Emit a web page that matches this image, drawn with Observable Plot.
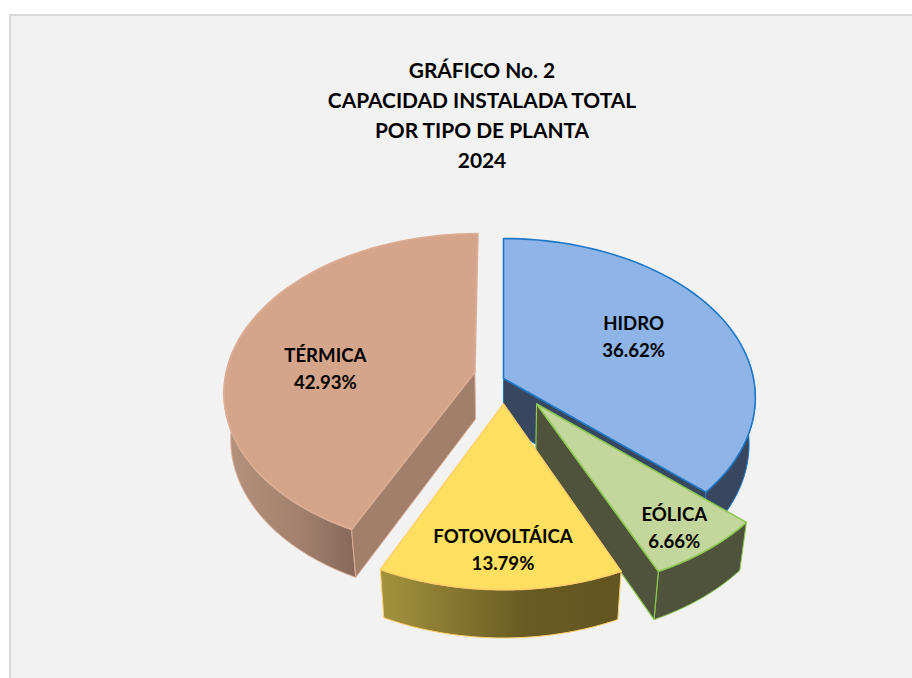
<!DOCTYPE html>
<html lang="es">
<head>
<meta charset="utf-8">
<script src="https://cdn.jsdelivr.net/npm/d3@7"></script>
<script src="https://cdn.jsdelivr.net/npm/@observablehq/plot@0.6"></script>
<style>
html,body{margin:0;padding:0;background:#fff;overflow:hidden;width:912px;height:678px}
#frame{position:absolute;left:9px;top:14px;width:903px;height:664px;box-sizing:border-box;background:#f2f2f2;border-left:2px solid #d9d9d9;border-top:2px solid #d9d9d9}
#title{position:absolute;left:0;top:55px;width:964px;text-align:center;font:700 20.9px/30px Lato,sans-serif;color:#000}
#chart{position:absolute;left:0;top:0}
svg{background:transparent!important}
</style>
</head>
<body>
<div id="frame"></div>
<div id="title">GRÁFICO No. 2<br>CAPACIDAD INSTALADA TOTAL<br>POR TIPO DE PLANTA<br>2024</div>
<div id="chart"></div>
<script>
// Data
const categories = ["HIDRO", "EÓLICA", "FOTOVOLTÁICA", "TÉRMICA"];
const shares = [36.62, 6.66, 13.79, 42.93];

// Styles
const topColors = ["#8eb4e8", "#c3d69b", "#ffdf5f", "#d4a58a"];
const edgeColors = ["#1f78c4", "#8cc850", "#ffd06a", "#dcae96"];
const wallColors = ["#36475f", "#50533b", "#6b5c22", "#a27f6b"];
const outerWallFill = ["#36475f", "#50533b", "url(#gFoto)", "url(#gTerm)"];

// Pie model: slice offsets from the centre, in radius units (sideways, toward viewer)
const explodeX = [0, 0.13, 0, -0.115];
const explodeZ = [0, 0.16, 0.16, -0.04];
const labelRadius = [0.61, 0.84, 0.795, 0.605];
const labelTurn = [-4, 1, -0.5, -9.5];
const flatten = 0.627, thickness = 0.192, perspective = 0.12, taper = 0.025;

function project(X, Z, h) {
  const s = 1 / (1 - perspective * Z + taper * h);
  return {u: X * s, v: (flatten * Z + thickness * h) * s};
}
const rad = d => d * Math.PI / 180;
const slices = [], labels = [];
let start = 0;
shares.forEach((share, i) => {
  const a0 = start * 3.6, a1 = (start + share) * 3.6, dx = explodeX[i], dz = explodeZ[i];
  start += share;
  const at = (a, r, h) => project(dx + r * Math.sin(rad(a)), dz - r * Math.cos(rad(a)), h);
  const angles = d3.range(0, 61).map(k => a0 + (a1 - a0) * k / 60);
  const arc = h => angles.map(a => at(a, 1, h));
  // only the part of the rim that faces the viewer gets a wall
  const frontArc = h => angles.filter(a => -Math.cos(rad(a)) >= -0.2).map(a => at(a, 1, h));
  const apexT = at(0, 0, 0), apexB = at(0, 0, 1);
  const topArc = arc(0), botArc = arc(1);
  const close = p => [...p, p[0]];
  const startWall = close([apexT, topArc[0], botArc[0], apexB]);
  const endWall = close([apexT, topArc[60], botArc[60], apexB]);
  const outerWall = close([...frontArc(0), ...frontArc(1).reverse()]);
  const topFace = close([apexT, ...topArc]);
  const faces = [{pts: outerWall, fill: outerWallFill[i], stroke: edgeColors[i], w: 1}];
  if (i === 0) faces.push({pts: startWall, fill: wallColors[i], stroke: edgeColors[i], w: 1}, {pts: endWall, fill: wallColors[i], stroke: edgeColors[i], w: 1});
  if (i === 1) faces.push({pts: endWall, fill: wallColors[i], stroke: edgeColors[i], w: 1.2});
  if (i === 3) faces.push({pts: startWall, fill: wallColors[i], stroke: edgeColors[i], w: 1});
  faces.push({pts: topFace, fill: topColors[i], stroke: edgeColors[i], w: 1.6});
  slices.push(faces);
  const p = at((a0 + a1) / 2 + labelTurn[i], labelRadius[i], 0);
  labels.push({u: p.u, v: p.v, text: categories[i] + "\n" + share.toFixed(2) + "%"});
});
// paint back to front: Térmica, Hidro, Eólica, Fotovoltáica
const painted = [3, 0, 1, 2].flatMap(i => slices[i]);

const gradients = () => {
  const defs = d3.create("svg:defs");
  [["gFoto", "#a4933c", "#6a5b24", "#62551f"], ["gTerm", "#b5937f", "#a0806c", "#86685a"]].forEach(([id, a, m, b]) => {
    const g = defs.append("linearGradient").attr("id", id);
    g.append("stop").attr("offset", "0%").attr("stop-color", a);
    g.append("stop").attr("offset", "60%").attr("stop-color", m);
    g.append("stop").attr("offset", "100%").attr("stop-color", b);
  });
  return defs.node();
};

const chart = Plot.plot({
  width: 912, height: 678, margin: 0,
  style: {background: "transparent"},
  x: {domain: [-503 / 250, 409 / 250], range: [0, 912], axis: null},
  y: {domain: [-378 / 250, 300 / 250], range: [0, 678], axis: null},
  marks: [
    gradients,
    ...painted.map(f => Plot.line(f.pts, {x: "u", y: "v", fill: f.fill, stroke: f.stroke, strokeWidth: f.w, strokeLinejoin: "round", curve: "linear"})),
    Plot.text(labels, {x: "u", y: "v", text: "text", fontFamily: "Lato, sans-serif", fontWeight: 700, fontSize: 18.6, lineHeight: 1.45, fill: "#000"})
  ]
});
document.getElementById("chart").appendChild(chart);
</script>
</body>
</html>
